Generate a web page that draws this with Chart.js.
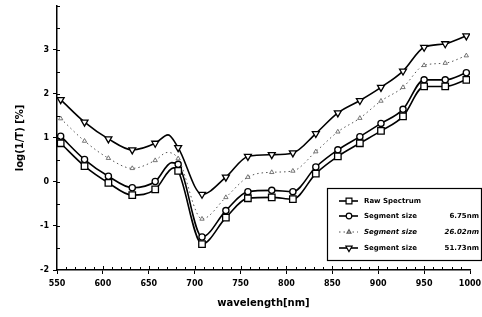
<!DOCTYPE html>
<html>
<head>
<meta charset="utf-8">
<script src="https://cdn.jsdelivr.net/npm/chart.js@4/dist/chart.umd.min.js"></script>
<style>
  html, body { margin: 0; padding: 0; background: #fff; }
  #wrap { width: 482px; height: 317px; position: relative; }
</style>
</head>
<body>
<div id="wrap"><canvas id="spec"></canvas></div>
<script>
// wavelengths where the markers sit (nm)
const markerNm = [554, 580, 606, 632, 657, 682, 708, 734, 758, 784, 807, 832, 856, 880, 903, 927, 950, 973, 996];

const rawSpectrum = [0.88, 0.36, -0.02, -0.30, -0.17, 0.25, -1.41, -0.81, -0.37, -0.35, -0.39, 0.19, 0.58, 0.88, 1.16, 1.49, 2.17, 2.17, 2.32];
const seg675 = [1.04, 0.51, 0.13, -0.13, 0.01, 0.40, -1.25, -0.65, -0.22, -0.19, -0.22, 0.34, 0.73, 1.03, 1.33, 1.65, 2.32, 2.32, 2.48];
const seg2602 = [1.44, 0.93, 0.54, 0.31, 0.49, 0.53, -0.84, -0.35, 0.11, 0.22, 0.25, 0.69, 1.14, 1.45, 1.84, 2.15, 2.65, 2.70, 2.87];
const seg5173 = [1.87, 1.36, 0.98, 0.73, 0.88, 0.78, -0.28, 0.11, 0.58, 0.62, 0.66, 1.10, 1.57, 1.85, 2.15, 2.52, 3.06, 3.14, 3.32];

// unmarked peak of each curve near 670 nm
const peakNm = [677, 675, 670, 671];
const peakVal = [0.32, 0.44, 0.67, 1.07];

const labels = ['Raw Spectrum', 'Segment size    6.75nm', 'Segment size  26.02nm', 'Segment size  51.73nm'];
const yTicks = [-2, -1, 0, 1, 2, 3];

function buildPoints(vals, i) {
    const pts = markerNm.map((x, k) => ({ x: x, y: vals[k] }));
    pts.push({ x: peakNm[i], y: peakVal[i], peak: true });
    pts.sort((a, b) => a.x - b.x);
    return pts;
}

const styles = [
    { pointStyle: 'rect', radius: 4.6, rotation: 0, dash: [], color: '#000', width: 1.6 },
    { pointStyle: 'circle', radius: 3.1, rotation: 0, dash: [], color: '#000', width: 1.6 },
    { pointStyle: 'triangle', radius: 2.5, rotation: 0, dash: [1.5, 3], color: '#555', width: 1 },
    { pointStyle: 'triangle', radius: 4, rotation: 180, dash: [], color: '#000', width: 1.6 }
];

const series = [rawSpectrum, seg675, seg2602, seg5173];

const datasets = series.map((vals, i) => ({
    label: labels[i],
    data: buildPoints(vals, i),
    borderColor: styles[i].color,
    borderWidth: styles[i].width,
    borderDash: styles[i].dash,
    cubicInterpolationMode: 'monotone',
    pointStyle: styles[i].pointStyle,
    pointRotation: styles[i].rotation,
    pointRadius: ctx => (ctx.raw && ctx.raw.peak) ? 0 : styles[i].radius,
    pointBackgroundColor: '#fff',
    pointBorderColor: styles[i].color,
    pointBorderWidth: i === 2 ? 0.8 : 1.3,
    fill: false
}));

const tickFont = { family: 'DejaVu Sans', size: 8, weight: 'bold' };

// small inward minor ticks on both axes
const minorTicks = {
    id: 'minorTicks',
    afterDraw(chart) {
        const { ctx, chartArea, scales: { x, y } } = chart;
        ctx.save();
        ctx.strokeStyle = '#000';
        ctx.lineWidth = 1;
        ctx.beginPath();
        for (let v = 560; v < 1000; v += 10) {
            const px = Math.round(x.getPixelForValue(v)) + 0.5;
            const len = v % 50 === 0 ? 4 : 3;
            ctx.moveTo(px, chartArea.bottom);
            ctx.lineTo(px, chartArea.bottom - len);
        }
        for (let v = -1.5; v <= 4; v += 0.5) {
            const py = Math.round(y.getPixelForValue(v)) + 0.5;
            ctx.moveTo(chartArea.left, py);
            ctx.lineTo(chartArea.left + 3, py);
        }
        ctx.stroke();
        ctx.restore();
    }
};

// boxed legend in the lower right corner
const boxLegend = {
    id: 'boxLegend',
    afterDraw(chart) {
        const ctx = chart.ctx;
        const left = 327, top = 188, right = 481, bottom = 260;
        const rows = [201, 216, 232, 248];
        ctx.save();
        ctx.fillStyle = '#fff';
        ctx.fillRect(left, top, right - left, bottom - top);
        ctx.strokeStyle = '#000';
        ctx.lineWidth = 1.2;
        ctx.strokeRect(left + 0.5, top + 0.5, right - left, bottom - top);
        chart.data.datasets.forEach((ds, i) => {
            const y = rows[i];
            ctx.beginPath();
            ctx.setLineDash(styles[i].dash);
            ctx.strokeStyle = styles[i].color;
            ctx.lineWidth = styles[i].width;
            ctx.moveTo(339, y);
            ctx.lineTo(358, y);
            ctx.stroke();
            ctx.setLineDash([]);
            ctx.fillStyle = '#fff';
            ctx.lineWidth = 1.2;
            Chart.helpers.drawPoint(ctx, {
                pointStyle: styles[i].pointStyle,
                rotation: styles[i].rotation,
                radius: styles[i].radius * 0.9,
                borderWidth: 1.2
            }, 349, y);
            ctx.fillStyle = '#000';
            ctx.font = (i === 2 ? 'italic ' : '') + 'bold 7px "DejaVu Sans"';
            ctx.textBaseline = 'middle';
            const parts = ds.label.split(/\s{2,}/);
            ctx.textAlign = 'left';
            ctx.fillText(parts[0], 364, y);
            if (parts[1]) {
                ctx.textAlign = 'right';
                ctx.fillText(parts[1], 479, y);
            }
        });
        ctx.restore();
    }
};

new Chart(document.getElementById('spec'), {
    type: 'line',
    data: { datasets: datasets },
    options: {
        responsive: true,
        maintainAspectRatio: false,
        animation: false,
        layout: { padding: { top: 2, right: 12, left: 0, bottom: 0 } },
        plugins: {
            legend: { display: false },
            tooltip: { enabled: false }
        },
        scales: {
            x: {
                type: 'linear',
                min: 550,
                max: 1000,
                afterFit: s => { s.height = 47; s.paddingLeft = 0; s.paddingRight = 0; },
                border: { color: '#000', width: 1.5 },
                grid: { drawOnChartArea: false, drawTicks: true, tickLength: 4, color: '#000' },
                ticks: { stepSize: 50, color: '#000', font: tickFont, padding: 5, maxRotation: 0, callback: v => String(v) },
                title: {
                    display: true,
                    text: 'wavelength[nm]',
                    color: '#000',
                    font: { family: 'DejaVu Sans', size: 10, weight: 'bold' },
                    padding: { bottom: 8 }
                }
            },
            y: {
                min: -2,
                max: 4,
                afterFit: s => { s.width = 57; s.paddingTop = 0; s.paddingBottom = 0; },
                afterBuildTicks: s => { s.ticks = yTicks.map(v => ({ value: v })); },
                border: { color: '#000', width: 1.5 },
                grid: { drawOnChartArea: false, drawTicks: true, tickLength: 4, color: '#000' },
                ticks: { color: '#000', font: tickFont, padding: 4 },
                title: {
                    display: true,
                    text: 'log(1/T) [%]',
                    color: '#000',
                    font: { family: 'DejaVu Sans', size: 10, weight: 'bold' },
                    padding: { top: 14 }
                }
            }
        }
    },
    plugins: [minorTicks, boxLegend]
});
</script>
</body>
</html>
